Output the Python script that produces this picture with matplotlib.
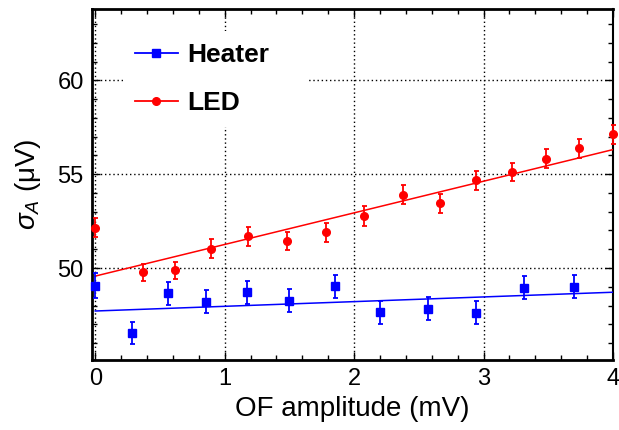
import matplotlib
matplotlib.use("Agg")
import matplotlib.pyplot as plt
from matplotlib.lines import Line2D
import numpy as np

# ---- data ----
heater_x = [0.0, 0.285, 0.56, 0.855, 1.17, 1.50, 1.85, 2.20, 2.57, 2.94, 3.31, 3.70]
heater_y = [49.06, 46.53, 48.65, 48.21, 48.71, 48.26, 49.03, 47.64, 47.84, 47.62, 48.95, 49.01]
heater_err = [0.65, 0.57, 0.62, 0.62, 0.62, 0.62, 0.62, 0.6, 0.6, 0.6, 0.62, 0.62]

led_x = [0.0, 0.37, 0.62, 0.895, 1.18, 1.48, 1.78, 2.08, 2.38, 2.66, 2.94, 3.22, 3.48, 3.74, 4.0]
led_y = [52.14, 49.77, 49.89, 51.03, 51.70, 51.44, 51.91, 52.77, 53.90, 53.44, 54.68, 55.11, 55.83, 56.37, 57.13]
led_err = [0.51, 0.45, 0.45, 0.5, 0.5, 0.5, 0.5, 0.52, 0.5, 0.52, 0.5, 0.5, 0.5, 0.5, 0.5]

# fitted straight lines (intercept, slope)
heater_fit = (47.71, 0.25)
led_fit = (49.57, 1.685)
fit_range = [0.0, 4.0]

x_ticks = [0, 1, 2, 3, 4]
y_ticks = [50, 55, 60]
labels = ["Heater", "LED"]

plt.rcParams['font.family'] = ['Liberation Sans', 'DejaVu Sans']
plt.rcParams['mathtext.fontset'] = 'custom'
plt.rcParams['mathtext.rm'] = 'Liberation Sans'
plt.rcParams['mathtext.it'] = 'Liberation Sans:italic'

fig = plt.figure(figsize=(6.19, 4.30), dpi=100)
ax = fig.add_axes([92/619, 1-360/430, 521/619, 351/430])

blue = (0, 0, 1)
red = (1, 0, 0)

fx = np.array(fit_range)
ax.plot(fx, heater_fit[0] + heater_fit[1]*fx, color=blue, lw=1.1, zorder=3)
ax.plot(fx, led_fit[0] + led_fit[1]*fx, color=red, lw=1.1, zorder=3)

ax.errorbar(heater_x, heater_y, yerr=heater_err, fmt='s', color=blue, ms=6,
            elinewidth=1.3, capsize=1.8, capthick=1.3, zorder=4, clip_on=False)
ax.errorbar(led_x, led_y, yerr=led_err, fmt='o', color=red, ms=5.5,
            elinewidth=1.3, capsize=1.8, capthick=1.3, zorder=4, clip_on=False)

ax.set_xlim(-0.025, 4.0)
ax.set_ylim(45.1, 63.8)
ax.set_xticks(x_ticks)
ax.set_yticks(y_ticks)
ax.set_xticks(np.arange(0, 4.01, 0.2), minor=True)
ax.set_yticks(np.arange(46, 64, 1), minor=True)

ax.tick_params(which='both', direction='in', top=True, right=True, width=1.0,
               labelsize=17, pad=6)
ax.tick_params(which='major', length=6)
ax.tick_params(which='minor', length=3.5)

for side in ['left', 'bottom', 'top']:
    ax.spines[side].set_linewidth(2.0)
ax.spines['right'].set_linewidth(1.5)

ax.grid(True, which='major', color='black', linestyle=(0, (1, 2)), lw=1.0)
ax.set_axisbelow(True)

ax.set_xlabel('OF amplitude (mV)', fontsize=20, labelpad=4)
ax.set_ylabel(r'$\sigma_{A}$ (μV)', fontsize=20, labelpad=10)

handles = [Line2D([], [], color=blue, marker='s', ms=6, lw=1.3),
           Line2D([], [], color=red, marker='o', ms=5.5, lw=1.3)]
leg = ax.legend(handles, labels, loc='upper left',
                bbox_to_anchor=(0.059, 0.0, 0.356, 0.937), mode='expand',
                prop={'weight': 'bold', 'size': 19}, handlelength=1.63,
                handletextpad=0.38, labelspacing=0.9, borderpad=0.45,
                borderaxespad=0.0, frameon=True, fancybox=False,
                framealpha=1.0, facecolor='white', edgecolor='none')

fig.savefig('out.png', dpi=100)
